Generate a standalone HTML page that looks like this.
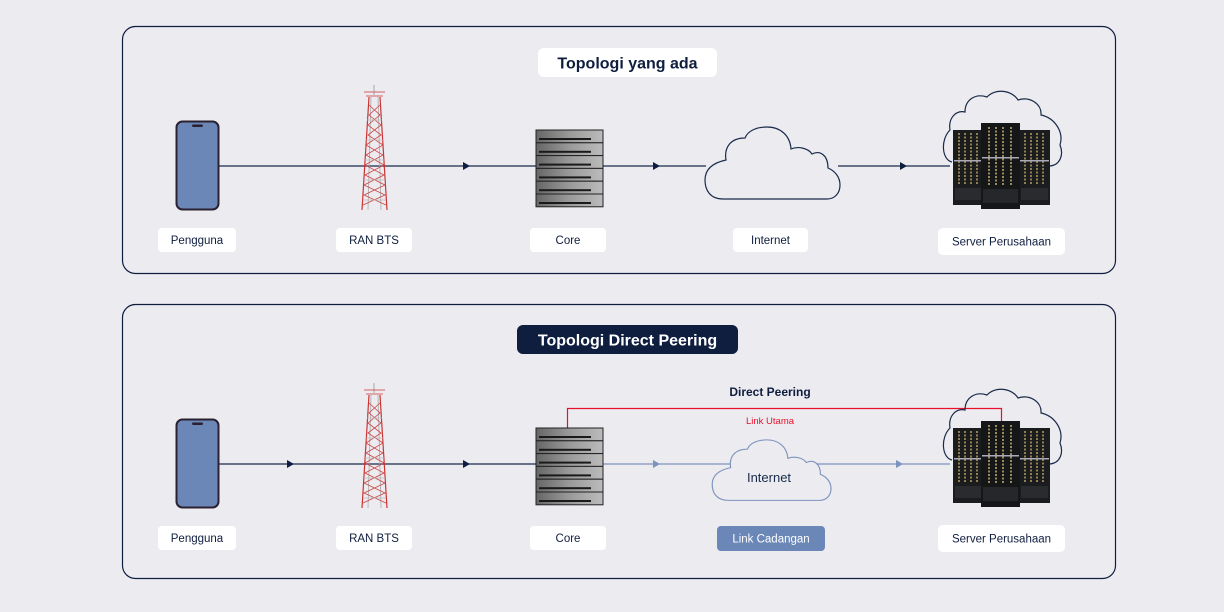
<!DOCTYPE html>
<html><head><meta charset="utf-8"><style>
html,body{margin:0;padding:0;background:#ecebf0;}
svg{display:block;font-family:"Liberation Sans",sans-serif;}
</style></head><body>
<svg width="1224" height="612" viewBox="0 0 1224 612" xmlns="http://www.w3.org/2000/svg">
<defs>
<g id="phone">
  <rect x="176.5" y="121.5" width="42" height="88" rx="6" fill="#6b87b8" stroke="#2a2030" stroke-width="2"/>
  <rect x="192" y="124.5" width="11" height="2.5" rx="1.2" fill="#2a2030"/>
</g>
<g id="tower" stroke-width="0.8" fill="none">
  <line x1="374" y1="85" x2="374" y2="95" stroke="#999"/>
  <path d="M364 92 H385 M366 96 H383" stroke="#c33"/>
  <path d="M369 97 L362 210 M380 97 L387 210" stroke="#c33" stroke-width="1.2"/>
  <path d="M371 97 L368 210 M378 97 L381 210" stroke="#aaa"/>
  <path d="M369 105 L380 115 L368 125 L381 135 L366 145 L383 155 L365 165 L384 175 L364 185 L385 195 L363 205 M380 105 L369 115 L381 125 L368 135 L383 145 L366 155 L384 165 L365 175 L385 185 L364 195 L386 205" stroke="#c44"/>
  <path d="M367 120 H382 M366 140 H383 M365 160 H384 M364 180 H385 M363 200 H386" stroke="#bbb"/>
</g>
<linearGradient id="sg" x1="0" y1="0" x2="1" y2="0"><stop offset="0" stop-color="#666"/><stop offset="0.5" stop-color="#9a9a9a"/><stop offset="1" stop-color="#bbb"/></linearGradient>
<g id="unit">
  <rect x="536" y="0" width="67" height="12.8" fill="url(#sg)" stroke="#222" stroke-width="1"/>
  <rect x="539" y="8" width="52" height="2" fill="#1a1a1a"/>
</g>
<g id="core">
  <use href="#unit" y="130"/><use href="#unit" y="142.8"/><use href="#unit" y="155.6"/>
  <use href="#unit" y="168.4"/><use href="#unit" y="181.2"/><use href="#unit" y="194"/>
</g>
<g id="rack1">
  <rect x="0" y="0" width="31" height="75" fill="#1b1c1e"/>
  <path d="M6 3 V55 M12 3 V55 M18 3 V55 M24 3 V55" stroke="#b8a060" stroke-width="1.5" stroke-dasharray="2 1.5"/>
  <rect x="1" y="30" width="29" height="1.5" fill="#aab"/>
  <rect x="2" y="58" width="27" height="12" fill="#2a2b2e"/>
</g>
<g id="srv">
  <path d="M952 162 C942 160 940 140 950 130 C948 118 956 110 965 112 C965 100 975 93 987 97 C995 88 1012 90 1018 100 C1030 96 1042 104 1041 115 C1055 118 1064 132 1060 145 C1064 155 1060 165 1050 166" fill="none" stroke="#1a2a4a" stroke-width="1.2"/>
  <use href="#rack1" transform="translate(953,130)"/>
  <use href="#rack1" transform="translate(1019,130)"/>
  <g transform="translate(981,123)">
    <rect x="0" y="0" width="39" height="86" fill="#151618"/>
    <path d="M8 4 V62 M15 4 V62 M22 4 V62 M30 4 V62" stroke="#c8b070" stroke-width="1.5" stroke-dasharray="2 1.5"/>
    <rect x="1" y="34" width="37" height="1.5" fill="#aab"/>
    <rect x="2" y="66" width="35" height="14" fill="#26272a"/>
  </g>
</g>
<g id="lbl"></g>
</defs>

<!-- Panel 1 -->
<rect x="122.5" y="26.5" width="993" height="247" rx="13" fill="none" stroke="#0f1d3f" stroke-width="1.2"/>
<rect x="538" y="48" width="179" height="29" rx="6" fill="#fff"/>
<text x="627.5" y="68.5" text-anchor="middle" font-size="16" font-weight="bold" fill="#0f1d3f">Topologi yang ada</text>

<line x1="219" y1="166" x2="706" y2="166" stroke="#1a2a4a" stroke-width="1.2"/>
<line x1="838" y1="166" x2="950" y2="166" stroke="#1a2a4a" stroke-width="1.2"/>
<path d="M463 162 L470 166 L463 170Z M653 162 L660 166 L653 170Z M900 162 L907 166 L900 170Z" fill="#0f1d3f"/>
<use href="#phone"/>
<use href="#tower"/>
<use href="#core"/>
<path transform="translate(690,120)" d="M33,79 C20,79 15,70 15,60 C15,50 22,43 36,40 C34,28 40,18 55,18 C58,10 68,7 77,7 C90,7 100,15 101,29 C108,26 118,28 122,34 C130,30 138,35 138,48 C145,51 150,57 150,65 C150,73 145,79 137,79 Z" fill="#ecebf0" stroke="#1a2a4a" stroke-width="1.2"/>
<use href="#srv"/>

<g font-size="11.5" fill="#0f1d3f" text-anchor="middle">
<rect x="158" y="228" width="78" height="24" rx="4" fill="#fff"/><text x="197" y="244" fill="#0f1d3f">Pengguna</text>
<rect x="336" y="228" width="76" height="24" rx="4" fill="#fff"/><text x="374" y="244" fill="#0f1d3f">RAN BTS</text>
<rect x="530" y="228" width="76" height="24" rx="4" fill="#fff"/><text x="568" y="244" fill="#0f1d3f">Core</text>
<rect x="733" y="228" width="75" height="24" rx="4" fill="#fff"/><text x="770.5" y="244" fill="#0f1d3f">Internet</text>
<rect x="938" y="228" width="127" height="27" rx="5" fill="#fff"/><text x="1001.5" y="245.5" fill="#0f1d3f">Server Perusahaan</text>
</g>

<!-- Panel 2 -->
<rect x="122.5" y="304.5" width="993" height="274" rx="13" fill="none" stroke="#0f1d3f" stroke-width="1.2"/>
<rect x="517" y="325" width="221" height="29" rx="6" fill="#0f1d3f"/>
<text x="627.5" y="345.5" text-anchor="middle" font-size="16" font-weight="bold" fill="#fff">Topologi Direct Peering</text>

<text x="770" y="396" text-anchor="middle" font-size="12" font-weight="bold" fill="#0f1d3f">Direct Peering</text>
<text x="770" y="424" text-anchor="middle" font-size="9.5" fill="#e8102a">Link Utama</text>
<path d="M567.5 428 V408.5 H1001.5 V425" fill="none" stroke="#e8102a" stroke-width="1.2"/>

<line x1="219" y1="464" x2="536" y2="464" stroke="#1a2a4a" stroke-width="1.2"/>
<path d="M287 460 L294 464 L287 468Z M463 460 L470 464 L463 468Z" fill="#0f1d3f"/>
<line x1="603" y1="464" x2="950" y2="464" stroke="#7d93bd" stroke-width="1.2"/>
<path d="M653 460 L660 464 L653 468Z M896 460 L903 464 L896 468Z" fill="#7d93bd"/>

<g transform="translate(0,298)">
<use href="#phone"/>
<use href="#tower"/>
<use href="#core"/>
<use href="#srv"/>
</g>
<path transform="translate(699,434) scale(0.88,0.84)" d="M33,79 C20,79 15,70 15,60 C15,50 22,43 36,40 C34,28 40,18 55,18 C58,10 68,7 77,7 C90,7 100,15 101,29 C108,26 118,28 122,34 C130,30 138,35 138,48 C145,51 150,57 150,65 C150,73 145,79 137,79 Z" fill="#ecebf0" stroke="#7d93bd" stroke-width="1.3"/>
<text x="769" y="482" text-anchor="middle" font-size="13" fill="#1a2a4a">Internet</text>

<g font-size="11.5" text-anchor="middle">
<rect x="158" y="526" width="78" height="24" rx="4" fill="#fff"/><text x="197" y="542" fill="#0f1d3f">Pengguna</text>
<rect x="336" y="526" width="76" height="24" rx="4" fill="#fff"/><text x="374" y="542" fill="#0f1d3f">RAN BTS</text>
<rect x="530" y="526" width="76" height="24" rx="4" fill="#fff"/><text x="568" y="542" fill="#0f1d3f">Core</text>
<rect x="717" y="526" width="108" height="25" rx="4" fill="#6b87b8"/><text x="771" y="542.5" fill="#fff">Link Cadangan</text>
<rect x="938" y="525" width="127" height="27" rx="5" fill="#fff"/><text x="1001.5" y="542.5" fill="#0f1d3f">Server Perusahaan</text>
</g>
</svg>
</body></html>
